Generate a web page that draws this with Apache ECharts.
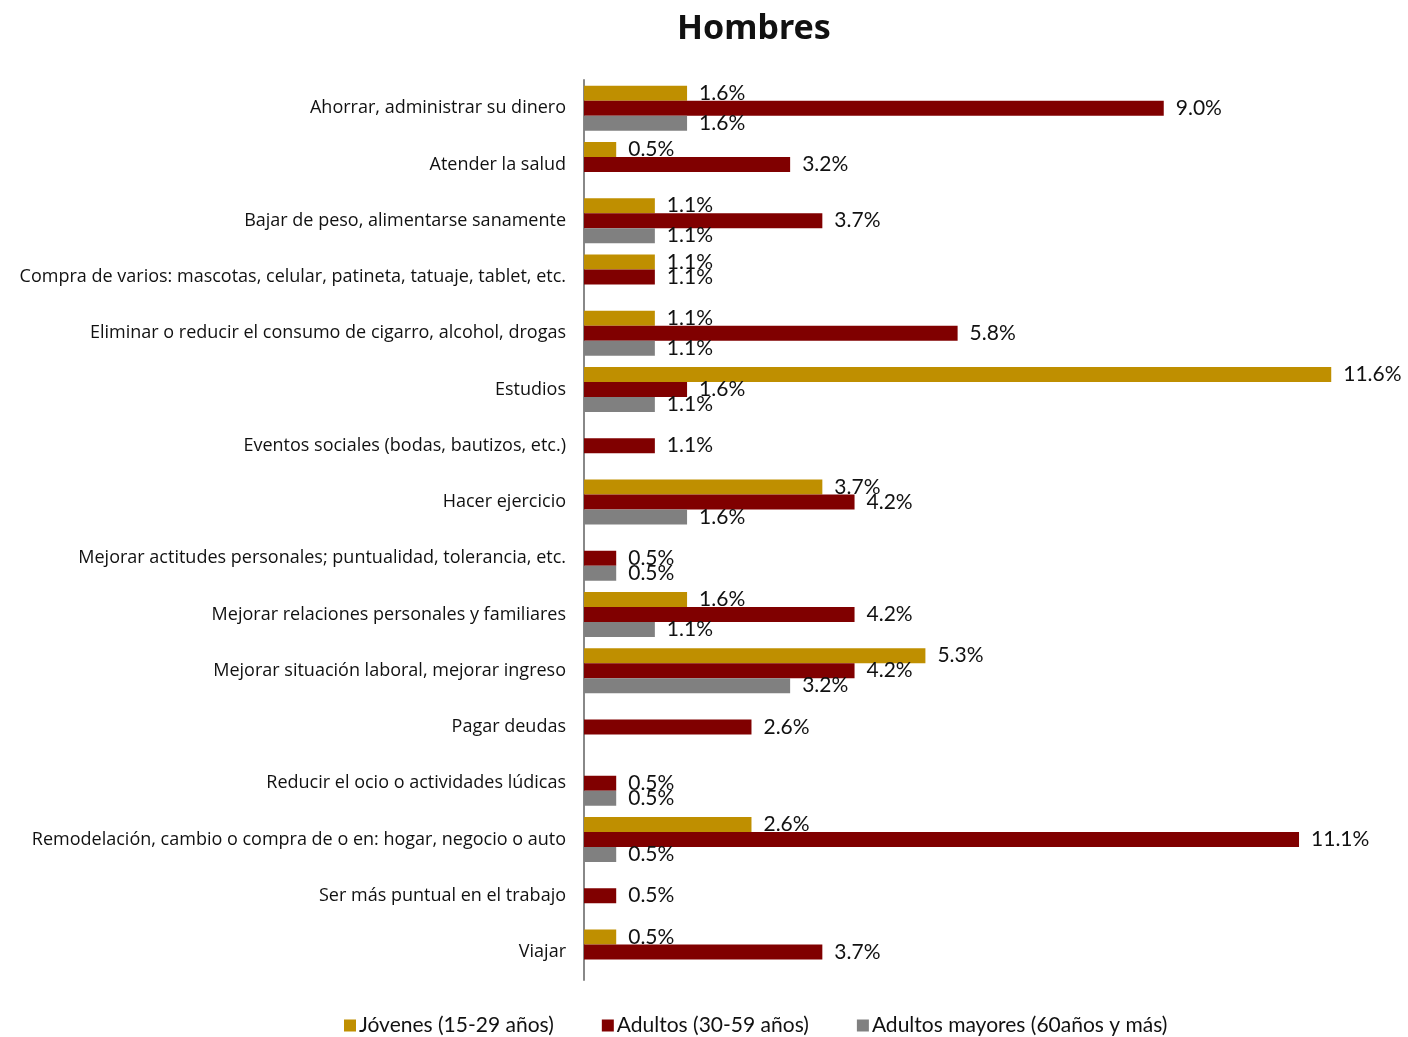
<!DOCTYPE html>
<html>
<head>
<meta charset="utf-8">
<script src="https://cdn.jsdelivr.net/npm/echarts@6/dist/echarts.min.js"></script>
<style>html,body{margin:0;padding:0;background:#fff;}#c{width:1408px;height:1037px;}</style>
</head>
<body>
<div id="c"></div>
<script>
const categories = [
  'Ahorrar, administrar su dinero',
  'Atender la salud',
  'Bajar de peso, alimentarse sanamente',
  'Compra de varios: mascotas, celular, patineta, tatuaje, tablet, etc.',
  'Eliminar o reducir el consumo de cigarro, alcohol, drogas',
  'Estudios',
  'Eventos sociales (bodas, bautizos, etc.)',
  'Hacer ejercicio',
  'Mejorar actitudes personales; puntualidad, tolerancia, etc.',
  'Mejorar relaciones personales y familiares',
  'Mejorar situación laboral, mejorar ingreso',
  'Pagar deudas',
  'Reducir el ocio o actividades lúdicas',
  'Remodelación, cambio o compra de o en: hogar, negocio o auto',
  'Ser más puntual en el trabajo',
  'Viajar'
];
const jovenes = [1.6, 0.5, 1.1, 1.1, 1.1, 11.6, null, 3.7, null, 1.6, 5.3, null, null, 2.6, null, 0.5];
const adultos = [9.0, 3.2, 3.7, 1.1, 5.8, 1.6, 1.1, 4.2, 0.5, 4.2, 4.2, 2.6, 0.5, 11.1, 0.5, 3.7];
const mayores = [1.6, null, 1.1, null, 1.1, 1.1, null, 1.6, 0.5, 1.1, 3.2, null, 0.5, 0.5, null, null];
const seriesNames = ['Jóvenes (15-29 años)', 'Adultos (30-59 años)', 'Adultos mayores (60años y más)'];
const colors = ['#BF8F00', '#800000', '#808080'];

const chart = echarts.init(document.getElementById('c'));
const lbl = {
  show: true, position: 'right', distance: 12,
  color: '#111', fontFamily: 'Lato', fontSize: 21,
  formatter: p => p.value.toFixed(1) + '%'
};
const mk = (name, data, i) => ({
  name, type: 'bar', data,
  barGap: '0%', barCategoryGap: '20%',
  itemStyle: { color: colors[i] },
  label: lbl
});
chart.setOption({
  backgroundColor: '#ffffff',
  animation: false,
  color: colors,
  title: {
    text: 'Hombres', left: 672, top: 7,
    textStyle: { fontFamily: 'Noto Sans', fontWeight: 'bold', fontSize: 34, color: '#111' }
  },
  legend: {
    top: 1010, left: 339, itemWidth: 12, itemHeight: 12, itemGap: 48,
    icon: 'rect',
    textStyle: { fontFamily: 'Lato', fontSize: 21, color: '#111', padding: [0, 0, 0, -2] },
    data: seriesNames
  },
  grid: { left: 584, right: 51, top: 80, bottom: 57, containLabel: false },
  xAxis: {
    type: 'value', min: 0, max: 12,
    show: false, splitLine: { show: false }
  },
  yAxis: {
    type: 'category', data: categories, inverse: true,
    axisLine: { show: true, lineStyle: { color: '#888', width: 2 } },
    axisTick: { show: false },
    axisLabel: { fontFamily: 'Open Sans', fontSize: 18, color: '#111', margin: 18 }
  },
  series: [mk(seriesNames[0], jovenes, 0), mk(seriesNames[1], adultos, 1), mk(seriesNames[2], mayores, 2)]
});
</script>
</body>
</html>
